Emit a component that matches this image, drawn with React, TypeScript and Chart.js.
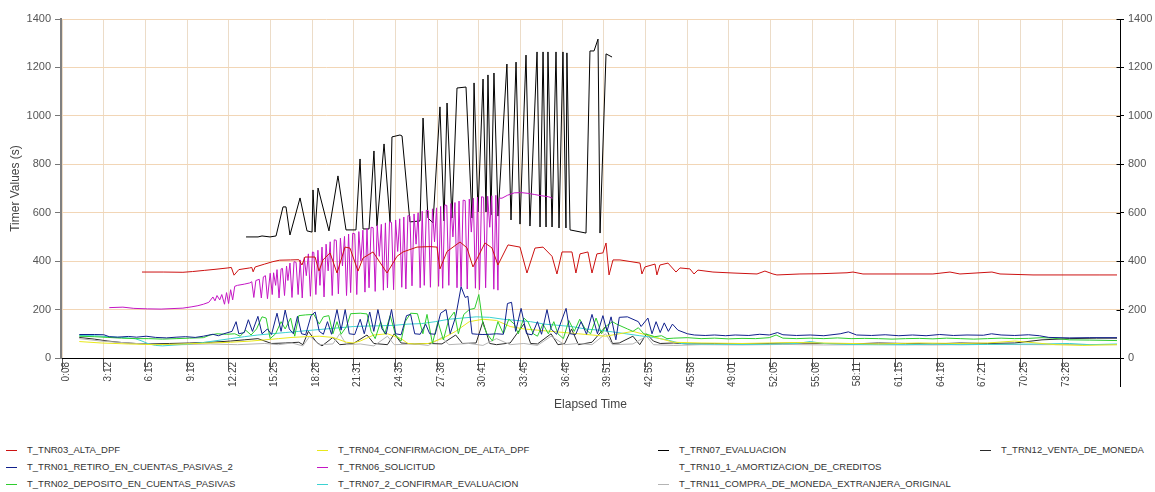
import React, { useEffect, useRef } from "react";
import { Chart, registerables } from "chart.js";

Chart.register(...registerables);

// ---- axis labels ----
const tickLabels = [
  "0:08", "3:12", "6:15", "9:18", "12:22", "15:25", "18:28", "21:31", "24:35",
  "27:38", "30:41", "33:45", "36:48", "39:51", "42:55", "45:58", "49:01", "52:05",
  "55:08", "58:11", "61:15", "64:18", "67:21", "70:25", "73:28",
];
const yTickValues = [0, 200, 400, 600, 800, 1000, 1200, 1400];
const xTitle = "Elapsed Time";
const yTitle = "Timer Values (s)";

// ---- series (elapsed minutes, seconds) ----
const altaDpf: [number, number][] = [
  [6.0, 355], [7.6, 355], [9.0, 354], [9.7, 357], [10.6, 362], [11.5, 367], [12.3, 372], [12.55, 374],
  [12.75, 342], [13.1, 365], [13.9, 372], [14.05, 374], [14.15, 356], [14.3, 376], [15.0, 388], [15.6, 398],
  [16.1, 404], [16.9, 405], [17.5, 406], [17.73, 384], [17.95, 417], [18.69, 417], [18.98, 359], [19.27, 405],
  [19.79, 434], [20.3, 351], [20.89, 458], [21.25, 454], [21.84, 359], [22.21, 413], [22.94, 438], [23.97, 351],
  [24.7, 420], [25.14, 438], [26.17, 458], [27.12, 460], [27.63, 458], [27.85, 368], [28.37, 440], [29.32, 479],
  [29.83, 455], [30.27, 376], [31.15, 475], [31.66, 455], [32.1, 384], [32.84, 467], [33.72, 458], [34.23, 351],
  [34.82, 454], [35.41, 458], [36.07, 420], [36.43, 347], [36.8, 438], [37.53, 438], [37.82, 351], [38.12, 430],
  [38.7, 438], [39.0, 351], [39.36, 430], [39.8, 434], [40.03, 475], [40.25, 343], [40.54, 405], [41.05, 405],
  [42.52, 392], [42.66, 347], [42.88, 376], [43.62, 388], [43.76, 343], [43.98, 384], [44.57, 392], [45.16, 355],
  [45.45, 372], [46.18, 368], [46.48, 347], [46.77, 363], [47.87, 355], [49.34, 351], [51.1, 347], [51.68, 359],
  [52.27, 347], [52.56, 343], [54.25, 347], [55.72, 348], [57.7, 352], [58.14, 355], [58.87, 347], [61.58, 347],
  [64.0, 347], [65.25, 355], [65.98, 347], [68.33, 355], [68.92, 347], [71.34, 343], [76.25, 343], [77.5, 343],
];

const retiroCuentas: [number, number][] = [
  [1.4, 97], [2.5, 97], [3.2, 96], [3.6, 88], [4.2, 86], [5.0, 89], [5.6, 86], [6.3, 90], [7.0, 85], [7.8, 83],
  [8.5, 86], [9.2, 88], [9.9, 85], [10.5, 90], [11.2, 98], [11.6, 92], [12.0, 100], [12.6, 110], [12.9, 150],
  [13.1, 100], [13.5, 105], [13.8, 158], [14.1, 110], [14.5, 172], [14.8, 100], [15.2, 120], [15.5, 97],
  [15.9, 185], [16.2, 110], [16.5, 198], [16.8, 120], [17.1, 100], [17.4, 172], [17.7, 100], [18.0, 96],
  [18.4, 175], [18.7, 190], [19.0, 110], [19.3, 98], [19.6, 150], [19.9, 98], [20.3, 200], [20.6, 115],
  [20.9, 200], [21.2, 100], [21.6, 97], [22.0, 160], [22.3, 100], [22.7, 190], [23.0, 110], [23.3, 200],
  [23.6, 120], [23.9, 98], [24.3, 200], [24.6, 100], [25.0, 96], [25.4, 175], [25.7, 180], [26.0, 100],
  [26.4, 98], [26.8, 140], [27.1, 100], [27.5, 98], [27.9, 185], [28.3, 200], [28.6, 100], [29.0, 170],
  [29.4, 294], [29.7, 250], [29.9, 255], [30.2, 100], [30.6, 98], [31.0, 97], [31.5, 98], [32.0, 100],
  [32.5, 98], [32.8, 225], [33.1, 230], [33.4, 110], [33.8, 205], [34.2, 100], [34.6, 96], [35.0, 150],
  [35.3, 98], [35.7, 200], [36.0, 120], [36.4, 98], [37.1, 205], [37.4, 100], [37.8, 97], [38.2, 150],
  [38.6, 98], [39.0, 180], [39.4, 100], [39.8, 175], [40.1, 110], [40.4, 170], [40.75, 75], [41.0, 168],
  [41.6, 170], [42.4, 150], [42.6, 130], [43.1, 165], [43.4, 100], [43.7, 150], [44.0, 105], [44.3, 145],
  [44.6, 110], [44.9, 140], [45.3, 115], [46.0, 100], [46.5, 95], [47.3, 93], [48.0, 95], [48.8, 92],
  [49.5, 95], [50.5, 93], [51.3, 98], [52.0, 95], [52.6, 105], [53.0, 96], [54.0, 93], [55.0, 95], [56.0, 92],
  [57.2, 100], [57.8, 108], [58.4, 95], [59.5, 93], [60.5, 96], [61.5, 92], [62.5, 95], [63.5, 92], [64.5, 97],
  [65.5, 93], [66.5, 95], [67.7, 94], [68.3, 100], [69.0, 95], [70.0, 93], [71.0, 96], [71.8, 92], [72.5, 85],
  [74.0, 83], [75.5, 84], [77.5, 84],
];

const depositoCuentas: [number, number][] = [
  [1.4, 90], [2.5, 88], [3.5, 85], [4.5, 82], [5.5, 80], [6.5, 80], [7.5, 78], [8.5, 80], [9.5, 82], [10.5, 84],
  [11.0, 95], [11.5, 100], [12.2, 98], [12.8, 100], [13.2, 90], [13.6, 115], [14.0, 95], [14.4, 120],
  [14.8, 170], [15.1, 165], [15.4, 80], [15.8, 100], [16.2, 150], [16.5, 120], [16.9, 165], [17.2, 90],
  [17.5, 175], [18.0, 178], [18.6, 180], [19.0, 140], [19.3, 170], [19.7, 175], [20.0, 100], [20.3, 150],
  [20.6, 98], [21.0, 130], [21.3, 183], [22.0, 185], [22.5, 182], [22.8, 110], [23.1, 80], [23.5, 150],
  [23.8, 100], [24.2, 175], [24.6, 95], [25.0, 70], [25.3, 150], [25.7, 185], [26.2, 183], [26.6, 100],
  [26.9, 180], [27.3, 60], [27.7, 150], [28.1, 75], [28.5, 160], [28.9, 190], [29.2, 100], [29.6, 180],
  [30.0, 200], [30.4, 205], [30.7, 262], [31.0, 140], [31.3, 100], [31.7, 70], [32.1, 150], [32.5, 100],
  [32.9, 160], [33.3, 140], [33.6, 100], [34.0, 165], [34.3, 150], [34.7, 100], [35.0, 90], [35.4, 140],
  [35.8, 100], [36.2, 150], [36.5, 100], [36.9, 80], [37.3, 155], [37.7, 110], [38.1, 160], [38.5, 120],
  [38.9, 100], [39.3, 165], [39.7, 100], [40.0, 130], [40.5, 150], [40.8, 140], [41.2, 130], [41.6, 120],
  [42.0, 110], [42.4, 125], [42.8, 100], [43.2, 95], [43.6, 88], [44.1, 92], [44.5, 80], [45.0, 82],
  [46.0, 84], [47.0, 80], [48.0, 82], [49.0, 79], [50.0, 81], [51.0, 80], [52.0, 84], [52.5, 95], [53.0, 82],
  [54.0, 80], [55.0, 82], [56.0, 80], [57.0, 83], [58.0, 80], [59.0, 81], [60.0, 80], [61.0, 78], [62.0, 80],
  [63.0, 81], [64.0, 79], [65.0, 82], [66.0, 80], [67.0, 78], [68.0, 80], [69.0, 82], [70.0, 80], [71.0, 81],
  [72.0, 84], [72.8, 82], [74.0, 75], [75.5, 74], [77.5, 72],
];

const confirmacionAlta: [number, number][] = [
  [1.4, 68], [3, 62], [5, 58], [7, 55], [9, 58], [11, 62], [12.5, 65], [14, 70], [15, 75], [16, 80], [17, 85],
  [18, 88], [19, 90], [20, 85], [21, 65], [21.5, 62], [22, 70], [23, 95], [24, 100], [25, 80], [25.5, 60],
  [26, 58], [27, 60], [28, 80], [29, 110], [30, 150], [31, 160], [32, 155], [33, 130], [34, 120], [35, 115],
  [36, 110], [37, 105], [38, 100], [39, 95], [40, 90], [41, 100], [42, 110], [43, 95], [44, 80], [45, 65],
  [47, 62], [50, 60], [52, 62], [54, 64], [56, 62], [58, 60], [60, 58], [63, 62], [66, 60], [68, 62], [70, 70],
  [71, 65], [73, 55], [75, 52], [77.5, 55],
];

const solicitud: [number, number][] = [
  [3.6, 208], [4.6, 210], [5.4, 205], [6.4, 203], [7.4, 202], [8.2, 204], [9.0, 206], [9.6, 211], [10.1, 216],
  [10.5, 222], [10.9, 230], [11.2, 252], [11.35, 236], [11.5, 258], [11.7, 240], [11.85, 262], [12.05, 222],
  [12.2, 270], [12.35, 225], [12.5, 282], [12.65, 240], [12.8, 296], [13.0, 300], [13.5, 305], [13.9, 310],
  [14.05, 315], [14.2, 250], [14.35, 320], [14.6, 325], [14.75, 248], [14.9, 335], [15.05, 340], [15.2, 245],
  [15.4, 350], [15.55, 262], [15.65, 352], [15.8, 300], [15.9, 365], [16.05, 248], [16.2, 368], [16.3, 370],
  [16.45, 258], [16.6, 380], [16.7, 320], [16.85, 392], [17.0, 250], [17.15, 398], [17.3, 395], [17.45, 262],
  [17.6, 405], [17.75, 248], [17.9, 415], [18.05, 340], [18.2, 430], [18.35, 255], [18.5, 438], [18.6, 436],
  [18.75, 262], [18.9, 445], [19.05, 300], [19.2, 458], [19.35, 252], [19.5, 470], [19.65, 360], [19.8, 480],
  [19.95, 258], [20.1, 488], [20.25, 486], [20.4, 265], [20.55, 495], [20.7, 380], [20.85, 502], [21.0, 258],
  [21.15, 512], [21.3, 270], [21.45, 515], [21.6, 513], [21.75, 262], [21.9, 522], [22.05, 400], [22.2, 528],
  [22.35, 272], [22.5, 535], [22.65, 290], [22.8, 540], [22.95, 538], [23.1, 275], [23.25, 548], [23.4, 420],
  [23.55, 552], [23.7, 280], [23.85, 558], [24.0, 290], [24.15, 562], [24.3, 560], [24.45, 282], [24.6, 570],
  [24.75, 440], [24.9, 575], [25.05, 292], [25.2, 582], [25.35, 285], [25.5, 588], [25.65, 586], [25.8, 298],
  [25.95, 595], [26.1, 470], [26.25, 600], [26.4, 290], [26.55, 606], [26.7, 300], [26.85, 610], [27.0, 608],
  [27.15, 292], [27.3, 616], [27.45, 480], [27.6, 620], [27.75, 296], [27.9, 626], [28.05, 288], [28.2, 632],
  [28.35, 630], [28.5, 300], [28.65, 638], [28.8, 500], [28.95, 642], [29.1, 290], [29.25, 648], [29.4, 295],
  [29.55, 652], [29.7, 650], [29.85, 285], [30.0, 656], [30.15, 520], [30.3, 660], [30.45, 288], [30.6, 664],
  [30.75, 282], [30.9, 666], [31.05, 664], [31.2, 290], [31.35, 668], [31.5, 540], [31.65, 670], [31.8, 284],
  [31.95, 672], [32.1, 280], [32.2, 660], [32.4, 660], [32.8, 672], [33.3, 682], [33.8, 683], [34.3, 680],
  [34.8, 675], [35.3, 670], [35.8, 666], [36.1, 660],
];

const confirmarEvaluacion: [number, number][] = [
  [1.4, 93], [2.5, 92], [3.5, 88], [4.5, 85], [5.5, 80], [6.0, 70], [6.5, 58], [7.0, 52], [7.5, 50], [8.5, 54],
  [9.5, 58], [10.5, 64], [11.5, 72], [12.5, 80], [13.5, 88], [14.5, 95], [15.5, 100], [16.5, 105], [17.5, 110],
  [18.5, 115], [19.5, 120], [20.5, 125], [21.5, 130], [22.5, 132], [23.5, 133], [24.5, 135], [25.5, 140],
  [26.5, 142], [27.5, 150], [28.5, 160], [29.5, 165], [30.5, 170], [31.5, 168], [32.5, 160], [33.5, 155],
  [34.5, 150], [35.5, 140], [36.5, 135], [37.5, 130], [38.5, 120], [39.5, 115], [40.5, 108], [41.5, 100],
  [42.5, 92], [43.5, 85], [44.5, 75], [45.5, 60], [46.5, 58], [48, 57], [50, 56], [52, 57], [54, 60], [55, 68],
  [56, 60], [58, 56], [60, 55], [62, 55], [64, 57], [66, 55], [68, 56], [70, 57], [72, 58], [74, 60], [75.5, 55],
  [77.5, 58],
];

const evaluacion: [number, number][] = [
  [13.63, 500], [14.51, 500], [14.8, 504], [15.39, 500], [15.83, 504], [16.34, 624], [16.56, 624], [16.85, 508],
  [17.59, 661], [18.1, 525], [18.47, 520], [18.54, 694], [18.69, 520], [18.91, 702], [19.71, 525], [20.37, 752],
  [20.96, 529], [21.69, 529], [21.99, 822], [22.21, 533], [22.65, 533], [23.01, 855], [23.23, 545], [23.75, 884],
  [24.19, 562], [24.33, 913], [24.92, 921], [25.07, 917], [25.65, 562], [26.39, 566], [26.61, 991], [26.97, 578],
  [27.34, 558], [27.85, 1037], [28.15, 566], [28.37, 1053], [28.73, 578], [29.1, 1115], [29.76, 1119],
  [30.2, 578], [30.35, 1136], [30.64, 603], [31.01, 1152], [31.23, 603], [31.37, 1169], [31.59, 591],
  [31.81, 1177], [32.11, 586], [32.76, 1214], [33.06, 570], [33.43, 1222], [33.72, 553], [34.16, 1251],
  [34.45, 545], [34.97, 1264], [35.19, 541], [35.41, 1264], [35.63, 541], [35.77, 1264], [36.07, 541],
  [36.36, 1264], [36.58, 537], [36.87, 1264], [37.09, 537], [37.16, 1260], [37.39, 529], [38.56, 516],
  [38.85, 1268], [39.15, 1268], [39.44, 1317], [39.59, 516], [40.03, 1256], [40.47, 1243],
];

const amortizacionCreditos: [number, number][] = [];

const compraMoneda: [number, number][] = [
  [1.4, 80], [3, 70], [5, 62], [7, 55], [9, 55], [11, 58], [13, 55], [15, 60], [16, 55], [17, 62], [17.8, 50],
  [18.3, 90], [19, 55], [20, 58], [20.5, 100], [21, 55], [22, 58], [23, 50], [24, 90], [24.5, 55], [26, 58],
  [27, 52], [28, 85], [28.5, 55], [30, 60], [31, 52], [32, 80], [33, 55], [34, 60], [35, 52], [36, 90], [37, 55],
  [38, 60], [39, 55], [40, 100], [40.5, 55], [42, 58], [43, 90], [43.5, 55], [45, 52], [47, 55], [50, 54],
  [53, 56], [56, 54], [60, 55], [64, 54], [68, 56], [72, 55], [75, 56], [77.5, 55],
];

const ventaMoneda: [number, number][] = [
  [1.4, 85], [2.5, 78], [3.5, 70], [4.5, 64], [5.5, 60], [6.5, 58], [8, 60], [9.5, 62], [11, 65], [12.5, 70],
  [13.5, 75], [14.5, 80], [15.5, 60], [16.5, 62], [17.5, 65], [17.8, 55], [18.2, 110], [18.8, 65], [19.2, 50],
  [20, 85], [20.5, 55], [21.5, 60], [22.5, 95], [23, 60], [24, 55], [24.5, 100], [25, 62], [26, 58], [27, 60],
  [28, 58], [29, 95], [29.5, 60], [30.5, 62], [31, 150], [31.5, 60], [32, 55], [33, 62], [34, 140], [34.5, 60],
  [35, 58], [36, 100], [36.5, 55], [37, 60], [37.5, 120], [38, 55], [39, 65], [40, 130], [40.5, 60], [41, 62],
  [42, 90], [42.5, 55], [43, 100], [43.5, 70], [44, 60], [45, 62], [46, 58], [48, 60], [50, 58], [52, 60],
  [54, 62], [56, 60], [58, 58], [60, 62], [62, 60], [64, 58], [66, 62], [68, 60], [70, 62], [72, 75], [74, 80],
  [76, 82], [77.5, 82],
];

const seriesNames = [
  "T_TNR03_ALTA_DPF",
  "T_TRN01_RETIRO_EN_CUENTAS_PASIVAS_2",
  "T_TRN02_DEPOSITO_EN_CUENTAS_PASIVAS",
  "T_TRN04_CONFIRMACION_DE_ALTA_DPF",
  "T_TRN06_SOLICITUD",
  "T_TRN07_2_CONFIRMAR_EVALUACION",
  "T_TRN07_EVALUACION",
  "T_TRN10_1_AMORTIZACION_DE_CREDITOS",
  "T_TRN11_COMPRA_DE_MONEDA_EXTRANJERA_ORIGINAL",
  "T_TRN12_VENTA_DE_MONEDA",
];
const seriesColors = [
  "#cc1111", "#10208c", "#2ecc2e", "#e8e81c", "#c416c4",
  "#3cd2d2", "#000000", "#ffffff", "#b4b4b4", "#2a2a2a",
];
const seriesData = [
  altaDpf, retiroCuentas, depositoCuentas, confirmacionAlta, solicitud,
  confirmarEvaluacion, evaluacion, amortizacionCreditos, compraMoneda, ventaMoneda,
];

// ---- view range (minutes) ----
const X_MIN = 0.06;
const X_MAX = 77.72;

const toMinutes = (label: string) => {
  const [m, s] = label.split(":").map(Number);
  return m + s / 60;
};

const FONT = '"Liberation Sans", Arial, sans-serif';

const axisExtras = {
  id: "axisExtras",
  afterDraw(chart: any) {
    const { ctx, chartArea, scales } = chart;
    const y2 = scales.y2;
    ctx.save();
    ctx.strokeStyle = "#000";
    ctx.lineWidth = 1;
    ctx.beginPath();
    const x = Math.round(chartArea.right) + 0.5;
    ctx.moveTo(x, chartArea.bottom);
    ctx.lineTo(x, chartArea.bottom + 29);
    y2.ticks.forEach((t: any) => {
      const py = Math.round(y2.getPixelForValue(t.value)) + 0.5;
      ctx.moveTo(x - 4, py);
      ctx.lineTo(x, py);
    });
    ctx.stroke();
    ctx.restore();
  },
};

export default function App() {
  const canvasRef = useRef<HTMLCanvasElement>(null);

  useEffect(() => {
    const tickValues = tickLabels.map(toMinutes);
    const chart = new Chart(canvasRef.current as HTMLCanvasElement, {
      type: "line",
      data: {
        datasets: seriesNames.map((name, i) => ({
          label: name,
          data: seriesData[i].map(([x, y]) => ({ x, y })),
          borderColor: seriesColors[i],
          backgroundColor: seriesColors[i],
          borderWidth: 1,
          pointRadius: 0,
          tension: 0,
          fill: false,
        })),
      },
      options: {
        animation: false,
        responsive: false,
        devicePixelRatio: 1,
        layout: { padding: { top: 19, bottom: 6, left: 0, right: 0 } },
        plugins: { legend: { display: false }, tooltip: { enabled: false } },
        scales: {
          x: {
            type: "linear",
            min: X_MIN,
            max: X_MAX,
            afterBuildTicks: (scale: any) => {
              scale.ticks = tickValues.map((v) => ({ value: v }));
            },
            afterFit: (scale: any) => {
              scale.height = 56;
            },
            ticks: {
              autoSkip: false,
              minRotation: 90,
              maxRotation: 90,
              padding: -8,
              labelOffset: 4,
              color: "#444",
              font: { family: FONT, size: 10 },
              callback: (_v: any, i: number) => tickLabels[i],
            },
            grid: { color: "#ecdcc8", tickColor: "#555", tickLength: 12, lineWidth: 1 },
            border: { color: "#000", width: 1 },
            title: {
              display: true,
              text: xTitle,
              color: "#444",
              font: { family: FONT, size: 12 },
              padding: { top: 0, bottom: 2 },
            },
          },
          y: {
            position: "left",
            min: 0,
            max: 1400,
            afterBuildTicks: (scale: any) => {
              scale.ticks = yTickValues.map((v) => ({ value: v }));
            },
            afterFit: (scale: any) => {
              scale.width = 61;
            },
            ticks: {
              padding: 4,
              color: "#555",
              font: { family: FONT, size: 11 },
              callback: (v: any) => String(v),
            },
            grid: { color: "#f2d6b6", tickColor: "#777", tickLength: 6, lineWidth: 1 },
            border: { color: "#808080", width: 2 },
            title: {
              display: true,
              text: yTitle,
              color: "#444",
              font: { family: FONT, size: 12 },
              padding: { top: 8, bottom: 0 },
            },
          },
          y2: {
            position: "right",
            min: 0,
            max: 1400,
            afterBuildTicks: (scale: any) => {
              scale.ticks = yTickValues.map((v) => ({ value: v }));
            },
            afterFit: (scale: any) => {
              scale.width = 35;
            },
            ticks: {
              padding: 4,
              color: "#555",
              font: { family: FONT, size: 11 },
              callback: (v: any) => String(v),
            },
            grid: { drawOnChartArea: false, tickColor: "#000", tickLength: 4 },
            border: { color: "#000", width: 1 },
          },
        },
      },
      plugins: [axisExtras],
    } as any);
    return () => chart.destroy();
  }, []);

  const colText = [27, 338, 679, 1001];
  const rowY = [450, 467, 484];

  return (
    <div
      style={{
        position: "absolute",
        left: 0,
        top: 0,
        width: 1155,
        height: 492,
        background: "#fff",
        overflow: "hidden",
        fontFamily: FONT,
      }}
    >
      <canvas ref={canvasRef} width={1155} height={420} style={{ display: "block" }} />
      {seriesNames.map((name, i) => {
        const col = Math.floor(i / 3);
        const row = i % 3;
        const x = colText[col];
        const y = rowY[row];
        return (
          <div key={name}>
            <div
              style={{
                position: "absolute",
                left: x - 21,
                top: y,
                width: 11,
                height: 1,
                background: seriesColors[i],
              }}
            />
            <div
              style={{
                position: "absolute",
                left: x,
                top: y - 7,
                fontSize: 9.5,
                lineHeight: "14px",
                color: "#333",
                whiteSpace: "nowrap",
              }}
            >
              {name}
            </div>
          </div>
        );
      })}
    </div>
  );
}
